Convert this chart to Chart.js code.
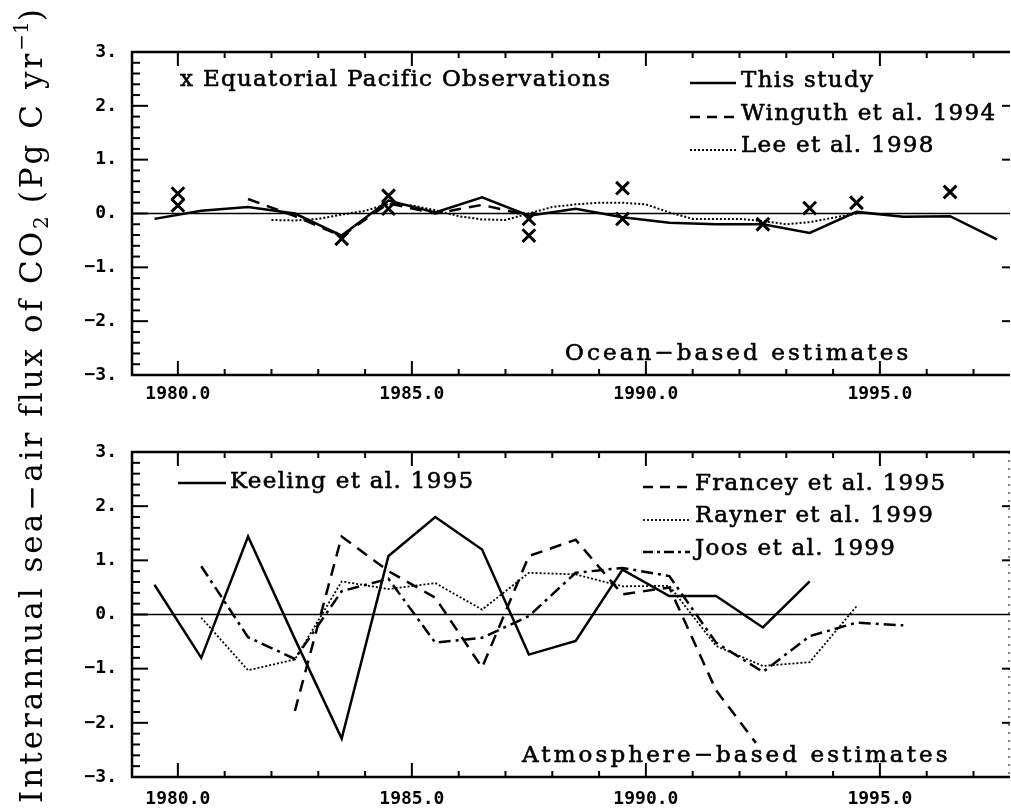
<!DOCTYPE html>
<html>
<head>
<meta charset="utf-8">
<script src="https://cdn.jsdelivr.net/npm/chart.js@4.4.0/dist/chart.umd.min.js"></script>
<style>
body { margin: 0; background: #fff; width: 1011px; height: 808px; overflow: hidden; position: relative; }
canvas { position: absolute; left: 0; }
#tituloY {
    position: absolute; left: 16px; top: 803px;
    transform-origin: 0 0; transform: rotate(-90deg);
    font: 31px "DejaVu Serif"; letter-spacing: 3px; line-height: 31px;
    white-space: nowrap; color: #000;
}
#tituloY sub, #tituloY sup { font-size: 20px; letter-spacing: 0; vertical-align: baseline; position: relative; }
#tituloY sub { top: 0.3em; }
#tituloY sup { top: -0.7em; }
</style>
</head>
<body>
<canvas id="arriba" width="1011" height="410" style="top:0"></canvas>
<canvas id="abajo" width="1011" height="398" style="top:410px"></canvas>
<div id="tituloY">Interannual sea−air flux of CO<sub>2</sub> (Pg C yr<sup>−1</sup>)</div>
<script>
// PANEL DE ARRIBA (OCEANO)
var obsYears = [1980.0, 1980.0, 1983.5, 1984.5, 1984.5, 1987.5, 1987.5, 1989.5, 1989.5, 1992.5, 1993.5, 1994.5, 1996.5];
var obsFlux  = [0.37, 0.15, -0.47, 0.33, 0.09, -0.10, -0.41, 0.47, -0.10, -0.20, 0.10, 0.20, 0.40];

var thisStudyYears = [1979.5, 1980.5, 1981.5, 1982.5, 1983.5, 1984.5, 1985.5, 1986.5, 1987.5, 1988.5,
                      1989.5, 1990.5, 1991.5, 1992.5, 1993.5, 1994.5, 1995.5, 1996.5, 1997.5];
var thisStudyFlux  = [-0.10, 0.05, 0.12, 0.00, -0.41, 0.24, 0.02, 0.30, -0.04, 0.09,
                      -0.07, -0.17, -0.20, -0.20, -0.36, 0.03, -0.06, -0.05, -0.48];

var winguthYears = [1981.5, 1982.5, 1983.5, 1984.5, 1985.5, 1986.5, 1987.5];
var winguthFlux  = [0.27, -0.05, -0.42, 0.19, 0.00, 0.16, -0.04];

var leeYears = [1982.0, 1982.5, 1983.0, 1983.5, 1984.0, 1984.5, 1985.0, 1985.5, 1986.0, 1986.5, 1987.0, 1987.5, 1988.0,
                1988.5, 1989.0, 1989.5, 1990.0, 1990.5, 1991.0, 1991.5, 1992.0, 1992.5, 1993.0, 1993.5, 1994.0, 1994.5];
var leeFlux  = [-0.12, -0.13, -0.10, -0.02, 0.05, 0.18, 0.15, 0.06, -0.05, -0.11, -0.12, 0.00, 0.12,
                0.17, 0.20, 0.20, 0.17, 0.02, -0.10, -0.10, -0.10, -0.14, -0.20, -0.16, -0.08, 0.00];

// PANEL DE ABAJO (ATMOSFERA)
var keelingYears = [1979.5, 1980.5, 1981.5, 1982.5, 1983.5, 1984.5, 1985.5, 1986.5, 1987.5, 1988.5, 1989.5, 1990.5, 1991.5, 1992.5, 1993.5];
var keelingFlux  = [0.55, -0.80, 1.44, -0.45, -2.29, 1.08, 1.80, 1.20, -0.74, -0.49, 0.83, 0.34, 0.34, -0.24, 0.61];

var franceyYears = [1982.5, 1983.5, 1984.5, 1985.5, 1986.5, 1987.5, 1988.5, 1989.5, 1990.5, 1991.5, 1992.35];
var franceyFlux  = [-1.78, 1.44, 0.80, 0.31, -0.98, 1.08, 1.38, 0.37, 0.50, -1.40, -2.37];

var raynerYears = [1980.5, 1981.5, 1982.5, 1983.5, 1984.5, 1985.5, 1986.5, 1987.5, 1988.5, 1989.5, 1990.5, 1991.5, 1992.5, 1993.5, 1994.5];
var raynerFlux  = [-0.06, -1.03, -0.83, 0.61, 0.47, 0.58, 0.09, 0.77, 0.74, 0.52, 0.53, -0.58, -0.95, -0.88, 0.15];

var joosYears = [1980.5, 1981.5, 1982.5, 1983.5, 1984.5, 1985.5, 1986.5, 1987.5, 1988.5, 1989.5, 1990.5, 1991.5, 1992.5, 1993.5, 1994.5, 1995.5];
var joosFlux  = [0.89, -0.42, -0.82, 0.43, 0.66, -0.52, -0.43, -0.03, 0.77, 0.86, 0.71, -0.52, -1.06, -0.40, -0.15, -0.20];

// EJES
var xTicks = [1980, 1985, 1990, 1995];
var yTicks = [-3, -2, -1, 0, 1, 2, 3];

var fuenteSerif = '23px "DejaVu Serif"';

function puntos(xs, ys) {
    return xs.map(function (x, i) { return { x: x, y: ys[i] }; });
}

function serie(xs, ys, dash, ancho) {
    return {
        data: puntos(xs, ys),
        borderColor: '#000',
        borderWidth: ancho,
        borderDash: dash,
        pointRadius: 0,
        fill: false,
        tension: 0
    };
}

function linea(ctx, x0, y0, x1, y1) {
    ctx.beginPath();
    ctx.moveTo(x0, y0);
    ctx.lineTo(x1, y1);
    ctx.stroke();
}

// texto un poco mas grueso, como en la figura escaneada
function texto(ctx, t, x, y) {
    ctx.fillText(t, x, y);
    ctx.lineWidth = 0.6;
    ctx.strokeText(t, x, y);
}

// MARCO, MARCAS DE LOS EJES, LEYENDAS
var marco = {
    id: 'marco',
    beforeDatasetsDraw: function (chart, args, o) {
        var ctx = chart.ctx;
        var a = chart.chartArea;
        var xs = chart.scales.x;
        var ys = chart.scales.y;
        var px, py, len, k;
        ctx.save();
        ctx.strokeStyle = '#000';

        // linea del cero
        ctx.lineWidth = 1.5;
        linea(ctx, a.left, ys.getPixelForValue(0), a.right, ys.getPixelForValue(0));

        ctx.lineWidth = 2.5;
        ctx.beginPath();
        ctx.moveTo(a.right, a.top);
        ctx.lineTo(a.left, a.top);
        ctx.lineTo(a.left, a.bottom);
        ctx.lineTo(a.right, a.bottom);
        ctx.stroke();

        ctx.lineWidth = 2;
        for (k = 1980; k <= 1997; k++) {
            px = xs.getPixelForValue(k);
            len = (k % 5 === 0) ? 14 : 6;
            linea(ctx, px, a.bottom, px, a.bottom - len);
            linea(ctx, px, a.top, px, a.top + len);
        }
        for (k = -15; k <= 15; k++) {
            py = ys.getPixelForValue(k / 5);
            len = (k % 5 === 0) ? 16 : 8;
            linea(ctx, a.left, py, a.left + len, py);
        }
        [-2, -1, 1, 2].forEach(function (v) {
            py = ys.getPixelForValue(v);
            linea(ctx, a.right, py, a.right - 8, py);
        });
        if (o.puntosDerecha) {
            ctx.lineWidth = 1;
            ctx.setLineDash([2, 6]);
            linea(ctx, a.right - 1, a.top, a.right - 1, a.bottom);
            ctx.setLineDash([]);
        }
        ctx.restore();
    },
    afterDatasetsDraw: function (chart, args, o) {
        var ctx = chart.ctx;
        ctx.save();
        ctx.fillStyle = '#000';
        ctx.strokeStyle = '#000';
        ctx.font = fuenteSerif;
        ctx.letterSpacing = '1.3px';
        ctx.textBaseline = 'alphabetic';
        (o.items || []).forEach(function (it) {
            if (it.x1) {
                ctx.lineWidth = it.ancho;
                ctx.setLineDash(it.dash);
                linea(ctx, it.x0, it.y, it.x1, it.y);
                ctx.setLineDash([]);
            }
            texto(ctx, it.texto, it.tx, it.ty);
        });
        if (o.rotulo) {
            ctx.letterSpacing = '3.1px';
            texto(ctx, o.rotulo.texto, o.rotulo.x, o.rotulo.y);
        }
        ctx.restore();
    }
};

function opciones(padTop, altoX, padX, extra) {
    return {
        responsive: false,
        animation: false,
        devicePixelRatio: 1,
        layout: { autoPadding: false, padding: { top: padTop, right: 1, left: 0, bottom: 0 } },
        plugins: {
            legend: { display: false },
            tooltip: { enabled: false },
            marco: extra
        },
        scales: {
            x: {
                type: 'linear',
                min: 1979.02,
                max: 1997.78,
                grid: { display: false, drawTicks: false },
                border: { display: false },
                afterBuildTicks: function (s) { s.ticks = xTicks.map(function (v) { return { value: v }; }); },
                afterFit: function (s) { s.height = altoX; },
                ticks: {
                    padding: padX,
                    color: '#000',
                    maxRotation: 0,
                    autoSkip: false,
                    font: { family: 'DejaVu Sans Mono', size: 18, weight: 'bold' },
                    callback: function (v) { return v.toFixed(1); }
                }
            },
            y: {
                type: 'linear',
                min: -3,
                max: 3,
                grid: { display: false, drawTicks: false },
                border: { display: false },
                afterBuildTicks: function (s) { s.ticks = yTicks.map(function (v) { return { value: v }; }); },
                afterFit: function (s) { s.width = 132; },
                ticks: {
                    padding: 15,
                    color: '#000',
                    font: { family: 'DejaVu Sans Mono', size: 18, weight: 'bold' },
                    callback: function (v) { return (v < 0 ? '−' : '') + Math.abs(v) + '.'; }
                }
            }
        }
    };
}

var datosArriba = {
    datasets: [
        serie(thisStudyYears, thisStudyFlux, [], 2.5),
        serie(winguthYears, winguthFlux, [12, 8], 2.5),
        serie(leeYears, leeFlux, [2, 2], 2),
        {
            data: puntos(obsYears, obsFlux),
            showLine: false,
            pointStyle: 'crossRot',
            pointRadius: 9,
            pointBorderWidth: 3,
            borderColor: '#000',
            backgroundColor: '#000'
        }
    ]
};

var datosAbajo = {
    datasets: [
        serie(keelingYears, keelingFlux, [], 2.5),
        serie(franceyYears, franceyFlux, [12, 8], 2.5),
        serie(raynerYears, raynerFlux, [2, 2], 1.8),
        serie(joosYears, joosFlux, [12, 5, 3, 5], 2.5)
    ]
};

var graficoArriba = new Chart(document.getElementById('arriba'), {
    type: 'line',
    data: datosArriba,
    plugins: [marco],
    options: opciones(52, 35, 9, {
        items: [
            { texto: 'x Equatorial Pacific Observations', tx: 180, ty: 86 },
            { texto: 'This study', x0: 690, x1: 736, y: 83, dash: [], ancho: 2.5, tx: 741, ty: 87 },
            { texto: 'Winguth et al. 1994', x0: 690, x1: 736, y: 117, dash: [10, 7], ancho: 2.5, tx: 741, ty: 120 },
            { texto: 'Lee et al. 1998', x0: 690, x1: 736, y: 150, dash: [2, 2], ancho: 2, tx: 741, ty: 152 }
        ],
        rotulo: { texto: 'Ocean−based estimates', x: 565, y: 360 }
    })
});

var graficoAbajo = new Chart(document.getElementById('abajo'), {
    type: 'line',
    data: datosAbajo,
    plugins: [marco],
    options: opciones(42, 31, 12, {
        items: [
            { texto: 'Keeling et al. 1995', x0: 178, x1: 226, y: 73, dash: [], ancho: 2.5, tx: 230, ty: 78 },
            { texto: 'Francey et al. 1995', x0: 643, x1: 690, y: 77, dash: [10, 7], ancho: 2.5, tx: 695, ty: 80 },
            { texto: 'Rayner et al. 1999', x0: 643, x1: 690, y: 110, dash: [2, 2], ancho: 1.8, tx: 695, ty: 112 },
            { texto: 'Joos et al. 1999', x0: 643, x1: 690, y: 142, dash: [10, 4, 3, 4], ancho: 2.5, tx: 695, ty: 145 }
        ],
        rotulo: { texto: 'Atmosphere−based estimates', x: 522, y: 352 },
        puntosDerecha: true
    })
});
</script>
</body>
</html>
